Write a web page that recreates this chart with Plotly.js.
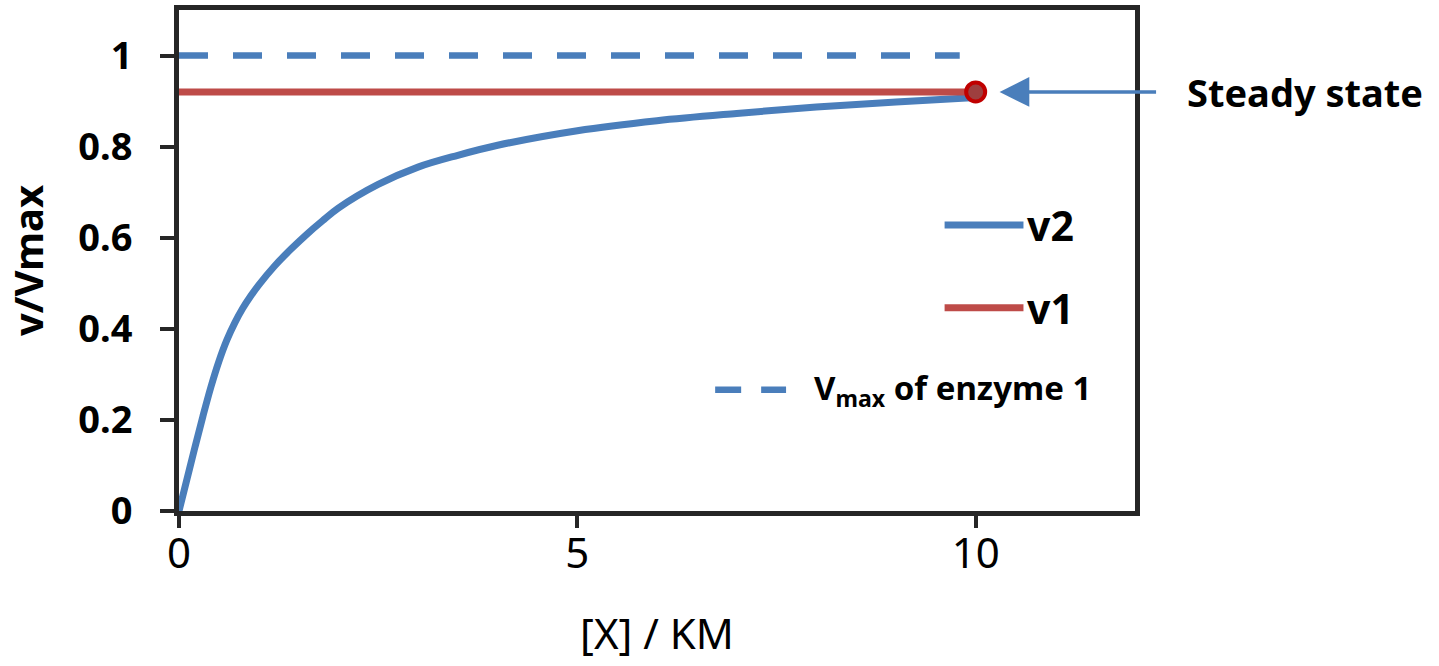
<!DOCTYPE html>
<html>
<head>
<meta charset="utf-8">
<script src="https://cdn.plot.ly/plotly-3.0.1.min.js"></script>
<style>
  html, body { margin: 0; padding: 0; background: #ffffff; }
  #chart { width: 1439px; height: 666px; }
</style>
</head>
<body>
<div id="chart"></div>
<script>
// ---- data ----
const v2X = [0, 0.1, 0.2, 0.3, 0.4, 0.5, 0.6, 0.7, 0.8, 0.9, 1.0, 1.2, 1.4, 1.6, 1.8, 2.0, 2.5, 3, 3.5, 4, 5, 6, 7, 8, 9, 10];
const v2Y = [0, 0.07, 0.14, 0.208, 0.272, 0.328, 0.375, 0.413, 0.445, 0.472, 0.496, 0.538, 0.574, 0.607, 0.637, 0.665, 0.717, 0.755, 0.781, 0.803, 0.835, 0.857, 0.873, 0.887, 0.898, 0.908];
const v1X = [0, 10];
const v1Y = [0.92, 0.92];
const vmaxX = [0, 9.8];
const vmaxY = [1, 1];
const steadyX = [10];
const steadyY = [0.92];
const xTicks = [0, 5, 10];
const yTicks = [0, 0.2, 0.4, 0.6, 0.8, 1];
const yTickText = ['0', '0.2', '0.4', '0.6', '0.8', '1'];
const legendNames = ['v2', 'v1', 'V<sub>max</sub> of enzyme 1'];
const legendY = [0.628, 0.446, 0.266];

const BLUE = '#4A7EBB';
const RED = '#BE4B48';
const AXIS = '#262626';
const FONT = 'Noto Sans, Open Sans, sans-serif';

const traces = [
  { x: vmaxX, y: vmaxY, mode: 'lines', name: legendNames[2],
    line: { color: BLUE, width: 6.5, dash: '29px,25px' }, showlegend: false, hoverinfo: 'skip' },
  { x: v2X, y: v2Y, mode: 'lines', name: 'v2',
    line: { color: BLUE, width: 7, shape: 'spline', smoothing: 1 }, showlegend: false },
  { x: v1X, y: v1Y, mode: 'lines', name: 'v1',
    line: { color: RED, width: 7 }, showlegend: false },
  { x: steadyX, y: steadyY, mode: 'markers', name: 'Steady state',
    marker: { size: 19, color: '#9E3F3F', line: { color: '#C00000', width: 4 } },
    showlegend: false, cliponaxis: false }
];

const shapes = [
  // legend samples
  { type: 'line', xref: 'x', yref: 'y', x0: 9.61, x1: 10.6, y0: legendY[0], y1: legendY[0],
    line: { color: BLUE, width: 7 } },
  { type: 'line', xref: 'x', yref: 'y', x0: 9.61, x1: 10.6, y0: legendY[1], y1: legendY[1],
    line: { color: RED, width: 7 } },
  { type: 'line', xref: 'x', yref: 'y', x0: 6.73, x1: 7.62, y0: legendY[2], y1: legendY[2],
    line: { color: BLUE, width: 6.5, dash: '26px,20px' } }
];

const annotations = [
  { x: 10.62, y: legendY[0], xref: 'x', yref: 'y', text: '<b>' + legendNames[0] + '</b>', showarrow: false,
    xanchor: 'left', yanchor: 'middle', font: { family: FONT, size: 41, color: '#000' } },
  { x: 10.62, y: legendY[1], xref: 'x', yref: 'y', text: '<b>' + legendNames[1] + '</b>', showarrow: false,
    xanchor: 'left', yanchor: 'middle', font: { family: FONT, size: 41, color: '#000' } },
  { x: 7.95, y: legendY[2], xref: 'x', yref: 'y', text: '<b>' + legendNames[2] + '</b>', showarrow: false,
    xanchor: 'left', yanchor: 'middle', font: { family: FONT, size: 33, color: '#000' } },
  // arrow to steady state
  { x: 10.3, y: steadyY[0], xref: 'x', yref: 'y', ax: 158, ay: 0, text: '', showarrow: true,
    arrowhead: 2, arrowsize: 1.7, arrowwidth: 3.5, arrowcolor: BLUE },
  { x: 1.0523, y: steadyY[0], xref: 'paper', yref: 'y', text: '<b>Steady state</b>', showarrow: false,
    xanchor: 'left', yanchor: 'middle', font: { family: FONT, size: 38, color: '#000' } }
];

const layout = {
  width: 1439, height: 666,
  margin: { l: 179, r: 304, t: 10, b: 155, pad: 0 },
  paper_bgcolor: '#ffffff', plot_bgcolor: '#ffffff',
  showlegend: false,
  font: { family: FONT, color: '#000' },
  xaxis: {
    range: [0, 12], tickvals: xTicks, ticktext: xTicks.map(String),
    showgrid: false, zeroline: false, showline: true, mirror: true,
    linecolor: AXIS, linewidth: 5, ticks: 'outside', ticklen: 12, tickwidth: 4, tickcolor: AXIS,
    tickfont: { family: FONT, size: 42, color: '#000' }, ticklabelstandoff: -10,
    title: { text: '[X] / KM', font: { family: FONT, size: 42, color: '#000' }, standoff: 42 },
    automargin: false
  },
  yaxis: {
    range: [0, 1.1], tickvals: yTicks, ticktext: yTickText.map(t => '<b>' + t + '</b>'),
    showgrid: false, zeroline: false, showline: true, mirror: true,
    linecolor: AXIS, linewidth: 5, ticks: 'outside', ticklen: 14, tickwidth: 4, tickcolor: AXIS,
    tickfont: { family: FONT, size: 38, color: '#000' }, ticklabelstandoff: 20,
    title: { text: '<b>v/Vmax</b>', font: { family: FONT, size: 40, color: '#000' }, standoff: 33 },
    automargin: false
  },
  shapes: shapes,
  annotations: annotations
};

Plotly.newPlot('chart', traces, layout, { displayModeBar: false, staticPlot: true });
</script>
</body>
</html>
